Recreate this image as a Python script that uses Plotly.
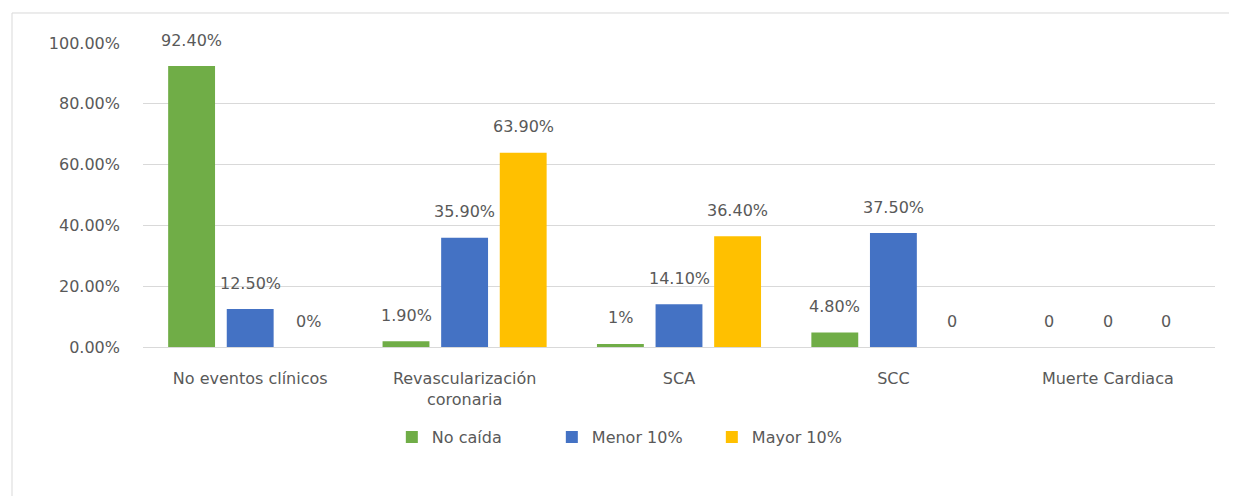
import plotly.graph_objects as go

# data
categories = ["No eventos clínicos", "Revascularización<br>coronaria", "SCA", "SCC", "Muerte Cardiaca"]
series_names = ["No caída", "Menor 10%", "Mayor 10%"]
no_caida = [0.924, 0.019, 0.01, 0.048, 0.0]
menor_10 = [0.125, 0.359, 0.141, 0.375, 0.0]
mayor_10 = [0.0, 0.639, 0.364, 0.0, 0.0]
no_caida_labels = ["92.40%", "1.90%", "1%", "4.80%", "0"]
menor_10_labels = ["12.50%", "35.90%", "14.10%", "37.50%", "0"]
mayor_10_labels = ["0%", "63.90%", "36.40%", "0", "0"]
y_ticks = [0.0, 0.2, 0.4, 0.6, 0.8, 1.0]

colors = ["#70AD47", "#4472C4", "#FFC000"]
text_color = "#595959"
font_family = "DejaVu Sans"
fsize = 16

fig = go.Figure()
values = [no_caida, menor_10, mayor_10]
labels = [no_caida_labels, menor_10_labels, mayor_10_labels]
for name, vals, col in zip(series_names, values, colors):
    fig.add_trace(go.Bar(x=categories, y=vals, name=name, marker=dict(color=col, line=dict(width=0))))

# data labels above each bar (offset to the bar's slot inside the group)
slot_px = 58.6
annotations = []
for i, labs in enumerate(labels):
    for cat, v, lab in zip(categories, values[i], labs):
        annotations.append(dict(
            x=cat, y=v, text=lab, showarrow=False,
            xshift=(i - 1) * slot_px, yshift=26,
            font=dict(family=font_family, size=fsize, color=text_color)))

# page body adds an 8px offset; size chosen so the page fits the window without scrollbars
fig.update_layout(
    width=1221, height=488,
    margin=dict(l=135, r=14, t=35, b=149),
    paper_bgcolor="white", plot_bgcolor="white",
    barmode="group", bargap=0.18, bargroupgap=0.2,
    font=dict(family=font_family, size=fsize, color=text_color),
    annotations=annotations,
    legend=dict(orientation="h", x=0.456, xanchor="center", y=-0.296, yanchor="middle",
                font=dict(size=fsize, color=text_color), itemwidth=30,
                entrywidth=115, traceorder="normal"),
    xaxis=dict(showgrid=False, showline=True, linecolor="#D9D9D9", linewidth=1,
               ticks="", ticklabelstandoff=17, tickfont=dict(size=fsize, color=text_color)),
    yaxis=dict(range=[0, 1.0], tickvals=y_ticks, tickformat=".2%",
               showgrid=True, gridcolor="#D9D9D9", gridwidth=1, zeroline=False,
               showline=False, ticks="", ticklabelstandoff=22,
               tickfont=dict(size=fsize, color=text_color)),
    shapes=[dict(type="rect", xref="paper", yref="paper",
                 x0=-0.1222, x1=1.05, y0=-0.6, y1=1.0987,
                 line=dict(color="#D9D9D9", width=1), fillcolor="rgba(0,0,0,0)", layer="below")],
)

fig.write_html("out.html")
